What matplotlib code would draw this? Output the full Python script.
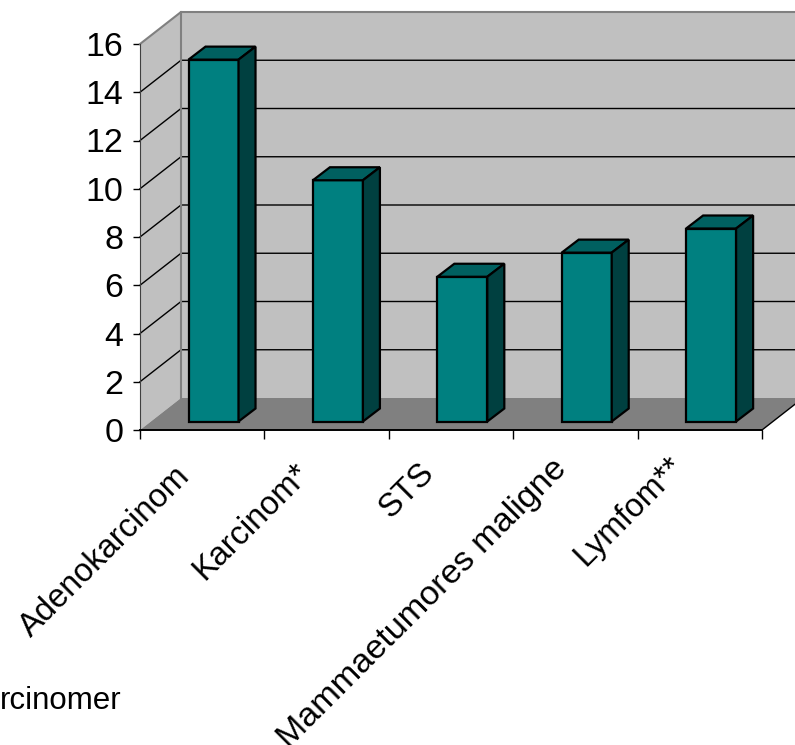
import matplotlib
matplotlib.use("Agg")
import matplotlib.pyplot as plt
from matplotlib.patches import Polygon
from matplotlib.transforms import ScaledTranslation

categories = ["Adenokarcinom", "Karcinom*", "STS", "Mammaetumores maligne", "Lymfom**"]
values = [15, 10, 6, 7, 8]
y_ticks = [0, 2, 4, 6, 8, 10, 12, 14, 16]

plt.rcParams['font.family'] = ['Liberation Sans', 'DejaVu Sans']
W, H = 795, 745
fig = plt.figure(figsize=(W / 100, H / 100), dpi=100)
ax = fig.add_axes([0, 0, 1, 1])
UX, UY = 124.4, 24.125
ax.set_xlim(-140 / UX, (W - 140) / UX)
ax.set_ylim((430 - H) / UY, 430 / UY)

# 3D depth expressed in data units
DX, DY = 41 / UX, 32 / UY
n = len(categories)
ymax = y_ticks[-1]
WALL, FLOOR, GRID = "#C0C0C0", "#808080", "#808080"

ax.add_patch(Polygon([(DX, DY), (n + DX, DY), (n + DX, ymax + DY), (DX, ymax + DY)],
                     fc=WALL, ec="none", zorder=1))
ax.add_patch(Polygon([(0, 0), (DX, DY), (DX, ymax + DY), (0, ymax)],
                     fc=WALL, ec="none", zorder=1))
ax.add_patch(Polygon([(0, 0), (n, 0), (n + DX, DY), (DX, DY)],
                     fc=FLOOR, ec="none", zorder=1))

for v in y_ticks[1:-1]:
    ax.plot([0, DX, n + DX], [v, v + DY, v + DY], color="black", lw=1, zorder=2,
            solid_joinstyle="miter")
ax.plot([0, DX, n + DX], [ymax, ymax + DY, ymax + DY], color=GRID, lw=1.5, zorder=2)
ax.plot([DX, DX], [DY, ymax + DY], color=GRID, lw=1.5, zorder=2)
ax.plot([n, n + DX], [0, DY], color="black", lw=1, zorder=2)

# bars
BW = 50 / UX
BDX, BDY = 17 / UX, 13 / UY
BX0, BY0 = 0.39, 8.5 / UY
FRONT, TOP, SIDE = "#008080", "#006060", "#004040"
kw = dict(ec="black", lw=1.6, joinstyle="miter", zorder=3)
for i, v in enumerate(values):
    x0 = i + BX0
    x1 = x0 + BW
    t = v + BY0
    ax.add_patch(Polygon([(x0, BY0), (x1, BY0), (x1, t), (x0, t)], fc=FRONT, **kw))
    ax.add_patch(Polygon([(x0, t), (x1, t), (x1 + BDX, t + BDY), (x0 + BDX, t + BDY)], fc=TOP, **kw))
    ax.add_patch(Polygon([(x1, BY0), (x1 + BDX, BY0 + BDY), (x1 + BDX, t + BDY), (x1, t)], fc=SIDE, **kw))

# axes
for s in ("top", "right"):
    ax.spines[s].set_visible(False)
ax.spines["left"].set_position(("data", 0))
ax.spines["bottom"].set_position(("data", 0))
ax.spines["left"].set_bounds(0, ymax)
ax.spines["bottom"].set_bounds(0, n)
ax.spines["left"].set_color("#404040")
ax.spines["bottom"].set_linewidth(1.4)
ax.spines["left"].set_zorder(4)
ax.spines["bottom"].set_zorder(4)
ax.set_yticks(y_ticks)
ax.set_yticklabels([str(v) for v in y_ticks], fontsize=24.5)
ax.tick_params(axis="y", length=5, width=1, pad=7, direction="out")
ax.set_xticks(range(n + 1))
ax.set_xticklabels([""] * (n + 1))
ax.tick_params(axis="x", length=6.5, width=1, direction="out")
ax.set_xticks([i + 0.5 for i in range(n)], minor=True)
ax.set_xticklabels(categories, minor=True, fontsize=23.5, rotation=45, ha="right",
                   rotation_mode="anchor")
ax.tick_params(axis="x", which="minor", length=0, pad=22)

# per-label nudges, in pixels at 100 dpi
label_dx = [-28, -33, -33, -24, -32]
label_dy = [0, 3, 3, 7, 10]
label_fs = [23.5, 23.5, 23.5, 24.6, 23.5]
for lab, dx, dy, fs in zip(ax.get_xticklabels(minor=True), label_dx, label_dy, label_fs):
    lab.set_fontsize(fs)
    lab.set_transform(lab.get_transform() + ScaledTranslation(dx / 100, dy / 100, fig.dpi_scale_trans))

fig.text(122 / W, 1 - 709 / H, "rcinomer", fontsize=22.5, ha="right", va="baseline")

fig.savefig("out.png", dpi=100)
